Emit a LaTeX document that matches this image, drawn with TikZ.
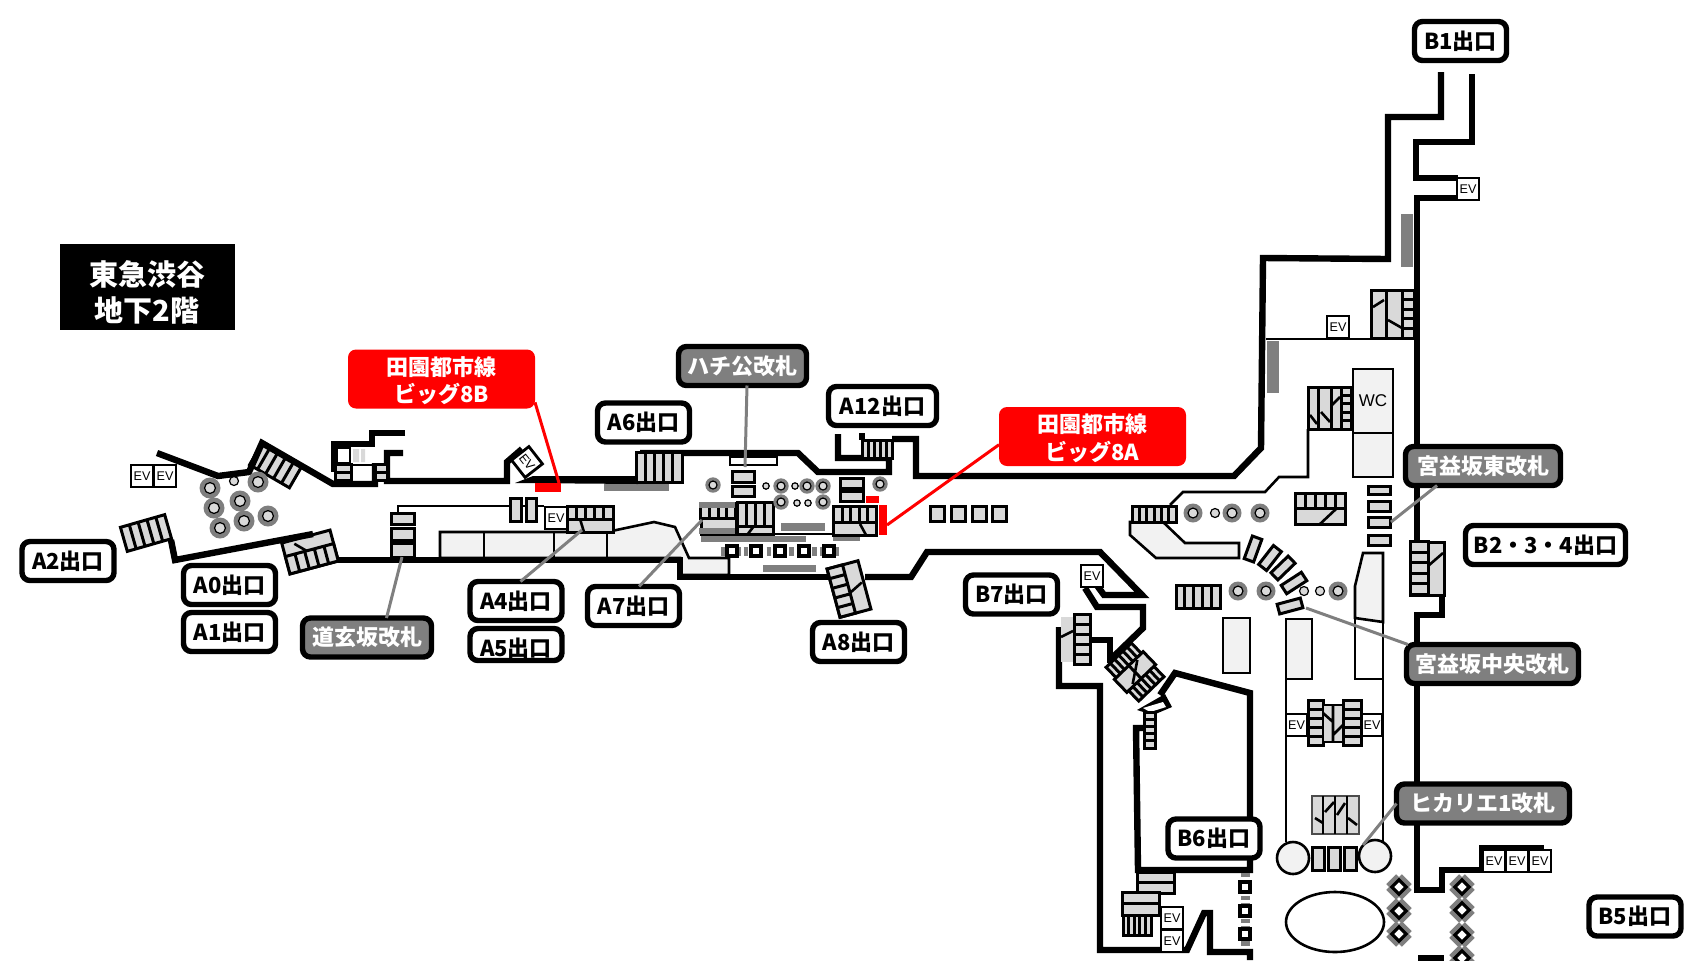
\documentclass[tikz,border=0pt]{standalone}
\usepackage{fontspec}
\setmainfont{Noto Sans CJK JP}
\newfontfamily\evfont{Liberation Sans}
\usetikzlibrary{positioning}

\definecolor{treadgray}{HTML}{D9D9D9}
\definecolor{floorgray}{HTML}{F2F2F2}
\definecolor{gategray}{HTML}{7F7F7F}

% cx, cy, width, height, rotation, number of treads
\newcommand{\treads}[6]{
  \begin{scope}[shift={(#1,#2)},rotate=#5]
    \draw[panel] ({-#3/2},{-#4/2}) rectangle ({#3/2},{#4/2});
    \foreach \i in {1,...,#6}{
      \ifnum\i<#6 \draw[treadline] ({-#3/2+\i*#3/#6},{-#4/2}) -- ({-#3/2+\i*#3/#6},{#4/2}); \fi
    }
  \end{scope}
}
\newcommand{\gatebar}[4]{\draw[panel] (#1,#2) rectangle (#3,#4);}
\newcommand{\escalator}[3]{
  \fill[gategray] (#1,#2) circle (#3);
  \draw[fill=treadgray,line width=0.6pt] (#1,#2) circle ({#3*0.52});
}
\newcommand{\smallcircle}[3]{\draw[fill=treadgray,line width=0.6pt] (#1,#2) circle (#3);}
\newcommand{\pillar}[2]{\draw[line width=1.6pt,fill=white] (#1-5,#2-5) rectangle (#1+5,#2+5);}
\newcommand{\tiltpillar}[2]{
  \begin{scope}[shift={(#1,#2)},rotate=45]
    \fill[gategray] (-11,-7) rectangle (11,7);
    \fill[gategray] (-7,-11) rectangle (7,11);
    \draw[line width=1.6pt,fill=white] (-5,-5) rectangle (5,5);
  \end{scope}
}
\newcommand{\twolines}[2]{\raisebox{#1}[0pt][0pt]{\begin{tabular}{@{}c@{}}#2\end{tabular}}}

\tikzset{
  wall/.style={line width=3.2pt,line join=miter},
  thinline/.style={line width=1.3pt},
  panel/.style={draw,line width=1.5pt,fill=treadgray},
  treadline/.style={line width=1.5pt},
  floorarea/.style={draw,line width=1.3pt,fill=floorgray},
  exitbox/.style={draw,line width=2.7pt,rounded corners=4pt,fill=white,outer sep=0pt,inner sep=0pt,
    minimum width=46pt,minimum height=19.5pt,font=\fontsize{11}{11}\selectfont\bfseries},
  gatebox/.style={exitbox,fill=gategray,text=white},
  redbox/.style={fill=red,text=white,rounded corners=4pt,outer sep=0pt,inner sep=0pt,align=center,
    minimum width=93.5pt,minimum height=29.5pt,font=\fontsize{11}{13.5}\selectfont\bfseries},
  evbox/.style={draw,line width=1.4pt,fill=white,inner sep=0pt,minimum width=11pt,minimum height=11pt,
    font=\evfont\fontsize{6.3}{6.3}\selectfont},
  leader/.style={draw=gategray,line width=1.5pt},
  redleader/.style={draw=red,line width=1.5pt}
}

\begin{document}
\begin{tikzpicture}[x=0.5pt,y=-0.5pt]
  \useasboundingbox (0,0) rectangle (1707,960);

  % grey bars along the walls
  \fill[gategray] (604,483) rectangle (669,491);
  \fill[gategray] (781,523) rectangle (825,531);
  \fill[gategray] (701,536) rectangle (806,542);
  \fill[gategray] (833,535) rectangle (860,541);
  \fill[gategray] (763,565) rectangle (816,572);
  \fill[gategray] (1401,214) rectangle (1413,267);
  \fill[gategray] (1267,341) rectangle (1279,393);

  % floor areas
  \draw[floorarea] (440,558) -- (440,532) -- (607,532) -- (654,522) -- (675,527) -- (689,558) -- (729,558) -- (729,575) -- (680,575) -- (680,558) -- cycle;
  \draw[thinline] (484,532) -- (484,558) (554,532) -- (554,558) (607,532) -- (607,558);
  \draw[thinline] (729,551) -- (729,575);
  \draw[floorarea] (1130,522) -- (1163,522) -- (1185,543) -- (1239,543) -- (1239,558) -- (1156,558) -- (1130,535) -- cycle;
  \draw[floorarea] (1223,618) rectangle (1250,673);
  \draw[floorarea] (1286,619) rectangle (1312,679);
  \draw[floorarea] (1363,553) -- (1383,553) -- (1383,622) -- (1355,618) -- (1355,586) -- cycle;
  \draw[floorarea] (1353,369) rectangle (1393,433);
  \draw[floorarea] (1353,433) rectangle (1393,477);

  % stairs under the walls, left
  \treads{146}{533}{46}{25}{16}{5}
  \treads{276}{465}{46}{26}{-30}{5}
  \begin{scope}[shift={(310,552)},rotate=15]
    \draw[panel] (-25,-16) rectangle (25,16);
    \treads{0}{7}{50}{18}{0}{5}
    \draw[thinline] (-13,-12) -- (-3,-2);
  \end{scope}

  % walls
  \draw[wall] (157,453) -- (218,476) -- (249,472) -- (262,443) -- (333,484) -- (375,484) -- (375,463);
  \draw[wall] (405,433) -- (372,433) -- (372,444) -- (334,444) -- (334,472);
  \draw[wall] (403,453) -- (387,453) -- (387,481) -- (507,481) -- (507,462) -- (522,449);
  \fill (515,483) -- (533,476) -- (638,476) -- (638,484) -- cycle;
  \draw[wall] (640,453) -- (798,453) -- (818,472) -- (889,472) -- (889,458) -- (838,458) -- (838,434);
  \draw[wall] (862,433) -- (862,440);
  \draw[wall] (892,439) -- (916,439) -- (916,476) -- (1234,476) -- (1261,448) -- (1263,258) -- (1388,259) -- (1388,117) -- (1441,117) -- (1441,72);
  \draw[wall] (1472,74) -- (1472,142) -- (1416,142) -- (1416,178) -- (1458,178);
  \draw[wall] (1458,198) -- (1417,198) -- (1417,542);
  \draw[wall] (1442,595) -- (1442,615) -- (1417,615) -- (1417,890) -- (1442,890) -- (1442,870) -- (1482,870);
  \draw[wall] (1482,870) -- (1482,848) -- (1544,848);
  \draw[wall] (171,540) -- (175,560) -- (313,534);
  \draw[wall] (338,560) -- (680,560) -- (680,577) -- (829,577);
  \draw[wall] (865,577) -- (911,577) -- (927,552) -- (1100,552) -- (1142,595) -- (1104,595) -- (1093,580);
  \draw[wall] (1085,588) -- (1097,607) -- (1143,607) -- (1143,628) -- (1110,660);
  \draw[wall] (1059,627) -- (1059,686) -- (1100,686) -- (1100,950) -- (1187,950) -- (1204,913) -- (1210,913) -- (1210,952) -- (1250,952) -- (1250,960);
  \draw[wall] (1090,640) -- (1110,640) -- (1110,663);
  \draw[wall] (1160,695) -- (1175,673) -- (1250,693) -- (1250,870) -- (1138,870) -- (1136,728) -- (1146,728);
  \draw[wall] (1418,958) -- (1444,958);

  % thin walls
  \draw[thinline] (398,513) -- (398,506) -- (544,506);
  \draw[thinline] (773,534) -- (833,534);
  \draw[thinline] (1266,339) -- (1417,339);
  \draw[thinline] (1308,429) -- (1308,477) -- (1279,477) -- (1265,492) -- (1183,492) -- (1170,505);
  \draw[thinline] (1355,618) -- (1355,679) -- (1383,679);
  \draw[thinline] (1383,622) -- (1383,842);
  \draw[thinline] (1286,679) -- (1286,842);
  \draw[thinline] (730,457) rectangle (777,465);
  \draw[thinline] (351,465) -- (375,465);

  % small block with the short stair
  \draw[line width=1.3pt] (337,448) rectangle (350,463);
  \fill[treadgray] (353,449) rectangle (359,462) (361,449) rectangle (365,462);
  \draw[panel] (335,464) rectangle (351,480);
  \draw[treadline] (335,472) -- (351,472);
  \draw[panel] (375,464) rectangle (387,480);
  \draw[treadline] (375,472) -- (387,472);

  % gates and stairs of the middle part
  \gatebar{391}{513}{414}{524}
  \gatebar{391}{528}{414}{540}
  \gatebar{391}{543}{414}{557}
  \gatebar{510}{498}{521}{521}
  \gatebar{526}{498}{536}{521}
  \draw[panel] (567,506) rectangle (613,532);
  \treads{590}{513}{46}{13}{0}{5}
  \draw[thinline] (580,519) -- (584,532);
  \treads{659}{467}{46}{30}{0}{5}
  \treads{877}{449}{30}{18}{0}{5}
  \draw[panel] (701,503) rectangle (736,534);
  \treads{718}{512}{35}{12}{0}{4}
  \fill[gategray] (699,502) rectangle (735,508);
  \fill[gategray] (699,528) rectangle (735,534);
  \draw[panel] (737,503) rectangle (773,534);
  \treads{755}{514}{36}{24}{0}{4}
  \draw[thinline] (747,535) -- (754,526);
  \draw[panel] (833,506) rectangle (876,535);
  \treads{855}{514}{43}{16}{0}{5}
  \draw[thinline] (860,524) -- (866,535);
  \gatebar{732}{471}{754}{482}
  \gatebar{732}{486}{754}{496}
  \gatebar{840}{478}{863}{488}
  \gatebar{840}{491}{863}{501}
  \foreach \x in {930,951,972,992}{
    \gatebar{\x}{506}{\x+14}{521}
  }
  \draw[gategray,line width=4.5pt,dash pattern=on 2.2pt off 1.6pt] (721,551) -- (839,551);
  \foreach \x in {732,756,780,804,829}{
    \pillar{\x}{551}
  }
  \begin{scope}[shift={(849,589)},rotate=15]
    \draw[panel] (-16,-25) rectangle (16,25);
    \treads{-8}{0}{50}{16}{90}{5}
    \draw[thinline] (0,4) -- (14,-3);
  \end{scope}

  % red marks
  \fill[red] (535,483) rectangle (561,492);
  \fill[red] (866,496) rectangle (879,503);
  \fill[red] (879,505) rectangle (887,535);

  % stairs and gates on the right
  \draw[panel] (1371,290) rectangle (1414,338);
  \treads{1408}{314}{48}{12}{90}{5}
  \draw[treadline] (1386,290) -- (1386,338);
  \draw[thinline] (1373,307) -- (1384,300) (1388,320) -- (1402,328);
  \draw[panel] (1308,387) rectangle (1352,429);
  \treads{1346}{408}{42}{10}{90}{5}
  \draw[treadline] (1318,387) -- (1318,429) (1331,387) -- (1331,429);
  \draw[thinline] (1310,415) -- (1317,424) (1321,412) -- (1330,422) (1332,405) -- (1340,397);
  \treads{1154}{514}{44}{16}{0}{6}
  \treads{1198}{597}{44}{23}{0}{5}
  \draw[panel] (1295,493) rectangle (1345,524);
  \treads{1320}{501}{50}{15}{0}{5}
  \draw[thinline] (1320,524) -- (1336,509);
  \gatebar{1368}{486}{1390}{494}
  \gatebar{1368}{501}{1390}{511}
  \gatebar{1368}{517}{1390}{527}
  \gatebar{1368}{535}{1390}{545}
  \draw[panel] (1410,542) rectangle (1444,595);
  \treads{1419}{568}{53}{18}{90}{5}
  \draw[thinline] (1428,566) -- (1443,553);
  \foreach \x/\y/\r in {1253/549/70,1270/558/52,1283/568/44,1294/583/33,1290/606/15}{
    \draw[panel,rotate around={\r:(\x,\y)}] (\x-12,\y-5) rectangle (\x+12,\y+5);
  }
  \fill[treadgray] (1061,617) rectangle (1073,662);
  \draw[thinline] (1061,637) -- (1073,631);
  \treads{1082}{639}{50}{16}{90}{5}
  \begin{scope}[shift={(1135,672)},rotate=-46]
    \treads{-16}{0}{35}{15}{90}{6}
    \treads{16}{0}{35}{15}{90}{6}
    \draw[panel] (-9,-20) rectangle (9,20);
    \draw[treadline] (-9,0) -- (9,0);
    \draw[thinline] (-7,-10) -- (0,0) -- (7,10);
  \end{scope}
  \fill (1137,710) -- (1165,694) -- (1172,707) -- (1153,715) -- cycle;
  \fill[white] (1143,708) -- (1163,702) -- (1166,707) -- (1150,712) -- cycle;
  \treads{1150}{730}{36}{11}{90}{5}
  \treads{1316}{723}{45}{15}{90}{5}
  \draw[panel,line width=1pt] (1323,705) rectangle (1343,742);
  \draw[thinline] (1323,713) -- (1333,722) (1333,705) -- (1333,742) (1333,735) -- (1343,725);
  \treads{1352}{723}{45}{18}{90}{5}
  \draw[panel,draw=black!70,line width=1pt] (1312,796) rectangle (1359,834);
  \draw[thinline] (1323,796) -- (1323,834) (1335,796) -- (1335,834) (1347,796) -- (1347,834);
  \draw[thinline] (1315,818) -- (1323,823) (1325,812) -- (1334,802) (1337,815) -- (1345,803) (1348,818) -- (1357,825);
  \gatebar{1137}{872}{1174}{882}
  \gatebar{1137}{882}{1174}{893}
  \gatebar{1122}{892}{1159}{903}
  \gatebar{1122}{903}{1159}{915}
  \treads{1137}{925}{28}{20}{0}{5}
  \gatebar{1312}{847}{1324}{870}
  \gatebar{1328}{847}{1340}{870}
  \gatebar{1344}{847}{1356}{870}

  % round shapes
  \draw[floorarea,fill=floorgray] (1293,858) circle (16);
  \draw[floorarea,fill=floorgray] (1375,856) circle (16);
  \draw[thinline,fill=white] (1335,922) ellipse (49 and 30);

  % escalators
  \foreach \x/\y in {210/488,258/482,214/508,240/501,244/521,268/516,220/528}{
    \escalator{\x}{\y}{10.5}
  }
  \foreach \x/\y in {713/485,781/486,807/486,823/486,781/502,823/502,880/484}{
    \escalator{\x}{\y}{7.7}
  }
  \foreach \x/\y in {1193/513,1232/513,1260/513,1238/591,1266/591,1338/591}{
    \escalator{\x}{\y}{9.5}
  }
  \foreach \x/\y in {234/481,1215/513,1304/591,1320/591}{
    \smallcircle{\x}{\y}{4.5}
  }
  \foreach \x/\y in {766/486,795/486,797/503,808/503}{
    \smallcircle{\x}{\y}{3.2}
  }

  % pillars
  \draw[gategray,line width=4.5pt,dash pattern=on 2.2pt off 1.6pt] (1245,873) -- (1245,948);
  \foreach \y in {887,911,934}{
    \pillar{1245}{\y}
    \tiltpillar{1399}{\y}
  }
  \foreach \y in {887,910,935,958}{
    \tiltpillar{1462}{\y}
  }

  % elevators
  \node[evbox] (evleftone) at (142,476) {EV};
  \node[evbox] (evlefttwo) at (165,476) {EV};
  \node[evbox,rotate=-52] (evtilted) at (527,462) {EV};
  \node[evbox] (evfour) at (556,518) {EV};
  \node[evbox] (evbseven) at (1092,576) {EV};
  \node[evbox] (evbone) at (1468,189) {EV};
  \node[evbox] (evtwo) at (1338,327) {EV};
  \node[evbox,minimum width=10.5pt] (evcentera) at (1296.5,725) {EV};
  \node[evbox,minimum width=10.5pt] (evcenterb) at (1372,725) {EV};
  \node[evbox] (evbsixa) at (1172,918) {EV};
  \node[evbox] (evbsixb) at (1172,941) {EV};
  \node[evbox] (evbfivea) at (1494,861) {EV};
  \node[evbox] (evbfiveb) at (1517,861) {EV};
  \node[evbox] (evbfivec) at (1540,861) {EV};
  \node[font=\evfont\fontsize{8.5}{8.5}\selectfont,inner sep=0pt] (wc) at (1373,401) {WC};

  % labels
  \node[fill=black,text=white,minimum width=87.5pt,minimum height=43pt,inner sep=0pt,align=center,
    font=\fontsize{14.5}{17.5}\selectfont\bfseries] (title) at (147,287) {\twolines{-8.2pt}{東急渋谷\\地下2階}};
  \node[redbox] (redb) at (441.5,379) {\twolines{-5.1pt}{田園都市線\\ビッグ8B}};
  \node[redbox] (reda) at (1092.5,436.5) {\twolines{-5.1pt}{田園都市線\\ビッグ8A}};
  \node[exitbox] (atwo) at (68,561) {A2出口};
  \node[exitbox] (azero) at (229.5,585) {A0出口};
  \node[exitbox,below=4pt of azero] (aone) {A1出口};
  \node[gatebox,minimum width=64.5pt] (dogen) at (367,637.5) {道玄坂改札};
  \node[exitbox] (afour) at (516,601) {A4出口};
  \node[exitbox,minimum height=16pt,below=4pt of afour] (afive) {\raisebox{-5.8pt}[0pt][0pt]{A5出口}};
  \node[exitbox] (asix) at (643.5,422.5) {A6出口};
  \node[gatebox,minimum width=64pt] (hachi) at (742.5,366) {ハチ公改札};
  \node[exitbox,minimum width=54pt] (atwelve) at (882.5,406) {A12出口};
  \node[exitbox] (aseven) at (633.5,606) {A7出口};
  \node[exitbox] (aeight) at (858.5,642) {A8出口};
  \node[exitbox] (bseven) at (1011.5,594.5) {B7出口};
  \node[exitbox] (bone) at (1460.5,41) {B1出口};
  \node[gatebox,minimum width=77.5pt] (east) at (1483,466) {宮益坂東改札};
  \node[exitbox,minimum width=80pt] (bthree) at (1545.5,545) {B2・3・4出口};
  \node[gatebox,minimum width=86pt] (central) at (1492.5,664) {宮益坂中央改札};
  \node[gatebox,minimum width=86.5pt] (hikarie) at (1483,803.5) {ヒカリエ1改札};
  \node[exitbox] (bsix) at (1214,838.5) {B6出口};
  \node[exitbox] (bfive) at (1635,916.5) {B5出口};

  % leaders
  \coordinate (dogengate) at (402,557);
  \coordinate (fourstairs) at (582,530);
  \coordinate (sevenstairs) at (702,520);
  \coordinate (hachigate) at (745,467);
  \coordinate (eastgate) at (1391,522);
  \coordinate (centralgate) at (1306,608);
  \coordinate (hikariegate) at (1363,845);
  \coordinate (redmarkb) at (559,483);
  \coordinate (redmarka) at (887,525);
  \path[leader] (dogen.45) edge (dogengate);
  \path[leader] (afour.77) edge (fourstairs);
  \path[leader] (aseven.74) edge (sevenstairs);
  \path[leader] (hachi.283) edge (hachigate);
  \path[leader] (east.203) edge (eastgate);
  \path[leader] (central.167) edge (centralgate);
  \path[leader] (hikarie.180) edge (hikariegate);
  \path[redleader] (redb.-14) edge (redmarkb);
  \path[redleader] (reda.185) edge (redmarka);
\end{tikzpicture}
\end{document}
